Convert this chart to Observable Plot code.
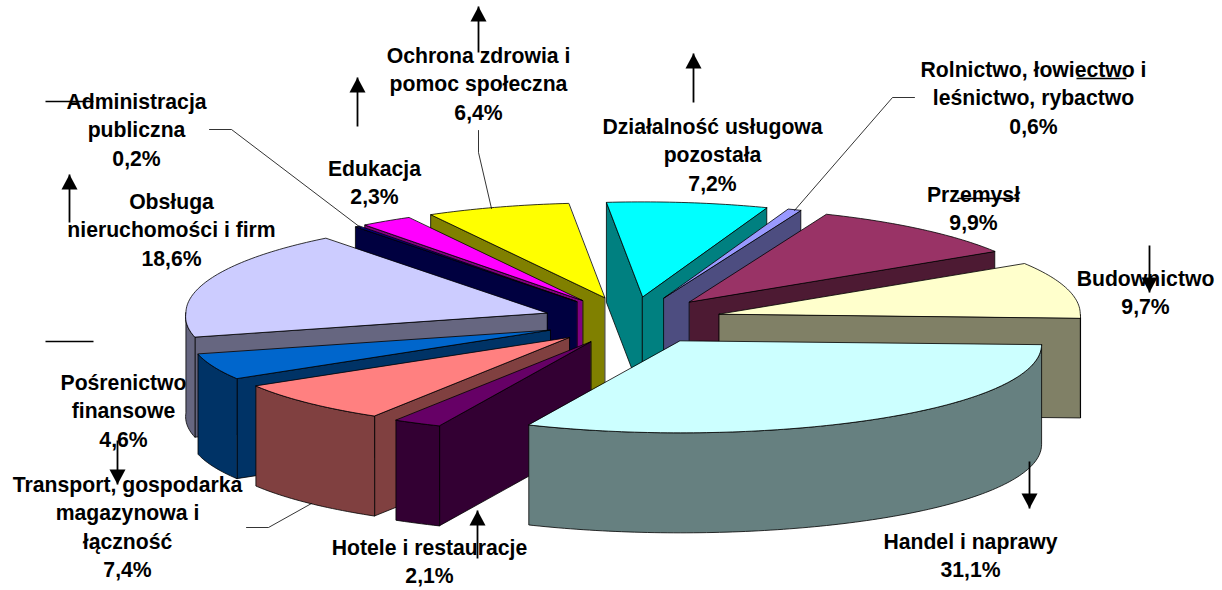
<!DOCTYPE html>
<html>
<head>
<meta charset="utf-8">
<style>html,body{margin:0;padding:0;background:#fff}svg{display:block}</style>
<script src="https://cdn.jsdelivr.net/npm/d3@7"></script>
<script src="https://cdn.jsdelivr.net/npm/@observablehq/plot@0.6"></script>
</head>
<body>
<script>
// Data, clockwise from 3 o'clock
const categories = ["Handel i naprawy","Hotele i restauracje","Transport, gospodarka\nmagazynowa i\nłączność","Pośrenictwo\nfinansowe","Obsługa\nnieruchomości i firm","Administracja\npubliczna","Edukacja","Ochrona zdrowia i\npomoc społeczna","Działalność usługowa\npozostała","Rolnictwo, łowiectwo i\nleśnictwo, rybactwo","Przemysł","Budownictwo"];
const shares = [31.1,2.1,7.4,4.6,18.6,0.2,2.3,6.4,7.2,0.6,9.9,9.7];
const topColors = ["#CCFFFF","#660066","#FF8080","#0066CC","#CCCCFF","#000080","#FF00FF","#FFFF00","#00FFFF","#9999FF","#993366","#FFFFCC"];
const sideColors = ["#668080","#330033","#804040","#003366","#666680","#000040","#800080","#808000","#008080","#4D4D80","#4D1A33","#808066"];
// Label anchors: centre x and first-line y
const labelX = [970,429,127,123,171,136,374,478,712,1033,973,1145];
const labelY = [541,547,484,382,201,101,168,55,126,69,194,278];

// Annotation shapes found on the picture
const arrowX = [478,357,69,693,1149,117,477,1029];
const arrowTail = [52,126,222,102,245,440,558,461];
const arrowTip = [6,77,174,53,292,484,510,508];
const ruleX1 = [45,45,1076,957];
const ruleX2 = [93,93,1126,1019];
const ruleY = [101,341,78,198];
const leaderXs = [[209,231,360],[478,478,491],[914,892,794],[246,268,311]];
const leaderYs = [[129,129,227],[130,152,208],[97,97,210],[527,527,503]];

// Pie projection
const cx = 632, cy = 320, explodeX = 90, explodeY = 24, rx = 361, ry = 92, depth = 100, firstAngle = 2;
const rad = d => d * Math.PI / 180;
const total = d3.sum(shares);
let acc = firstAngle;
const slices = shares.map((s, i) => {
  const a1 = acc, a2 = acc + s / total * 360; acc = a2;
  const m = (a1 + a2) / 2;
  const ax = cx + explodeX * Math.cos(rad(m)), ay = cy + explodeY * Math.sin(rad(m));
  const rim = t0 => {
    const t = t0 + 0.4 * (1 - Math.sin(rad(t0)));
    const sn = Math.sin(rad(t));
    return {x: ax + rx * Math.cos(rad(t)) * (1 + 0.04 * Math.max(0, sn)), y: ay + ry * sn * (sn < 0 ? 1.03 : 1)};
  };
  const arc = (p, q) => { const r = d3.range(p, q, 1).map(rim); r.push(rim(q)); return r; };
  const down = p => ({x: p.x, y: p.y + depth});
  const apex = {x: ax, y: ay};
  const polys = [];
  const wall = t => { const e = rim(t); return [apex, e, down(e), down(apex)]; };
  if (Math.cos(rad(a1)) < 0) polys.push({pts: wall(a1), fill: sideColors[i]});
  if (Math.cos(rad(a2)) > 0) polys.push({pts: wall(a2), fill: sideColors[i]});
  const band = (p, q) => { const r = arc(p, q); return [...r, ...r.slice().reverse().map(down)]; };
  if (a1 < 180 && a2 > 0) polys.push({pts: band(Math.max(a1, 0), Math.min(a2, 180)), fill: sideColors[i]});
  if (a2 > 360) polys.push({pts: band(Math.max(a1, 360), a2), fill: sideColors[i]});
  polys.push({pts: [apex, ...arc(a1, a2)], fill: topColors[i]});
  const key = Math.max(ay, ...arc(a1, a2).map(p => p.y));
  return {polys, key};
}).sort((a, b) => a.key - b.key);

const polyMarks = slices.flatMap(s => s.polys.map(p =>
  Plot.line(p.pts, {x: "x", y: "y", curve: "linear-closed", fill: p.fill, stroke: "#000", strokeWidth: 0.8, strokeLinejoin: "round"})
));

const labels = categories.map((c, i) => ({
  text: c + "\n" + shares[i].toFixed(1).replace(".", ",") + "%",
  x: labelX[i],
  y: labelY[i]
}));

const leaderMarks = leaderXs.map((xs, i) =>
  Plot.line(xs.map((x, j) => ({x, y: leaderYs[i][j]})), {x: "x", y: "y", stroke: "#000", strokeWidth: 0.8})
);
const rules = ruleY.map((y, i) => ({x1: ruleX1[i], x2: ruleX2[i], y}));
const arrows = arrowX.map((x, i) => ({x, tail: arrowTail[i], tip: arrowTip[i]}));
const heads = arrows.flatMap(a => {
  const dir = Math.sign(a.tip - a.tail);
  return Plot.line([{x: a.x, y: a.tip}, {x: a.x - 8, y: a.tip - dir * 15}, {x: a.x + 8, y: a.tip - dir * 15}],
    {x: "x", y: "y", curve: "linear-closed", fill: "#000", stroke: "none"});
});

const chart = Plot.plot({
  width: 1222, height: 590,
  margin: 0,
  x: {domain: [0, 1222], range: [0, 1222], axis: null},
  y: {domain: [0, 590], range: [0, 590], axis: null},
  style: {fontFamily: "'Liberation Sans', Arial, sans-serif", background: "#fff"},
  marks: [
    ...polyMarks,
    ...leaderMarks,
    Plot.text(labels, {x: "x", y: "y", text: "text", fontSize: 21.2, fontWeight: "bold", fill: "#000", lineHeight: 1.345, lineAnchor: "top", dy: -13, textAnchor: "middle"}),
    Plot.link(rules, {x1: "x1", x2: "x2", y1: "y", y2: "y", stroke: "#000", strokeWidth: 1.6}),
    Plot.link(arrows, {x1: "x", x2: "x", y1: "tail", y2: "tip", stroke: "#000", strokeWidth: 1.8}),
    ...heads
  ]
});
document.body.appendChild(chart);
</script>
</body>
</html>
